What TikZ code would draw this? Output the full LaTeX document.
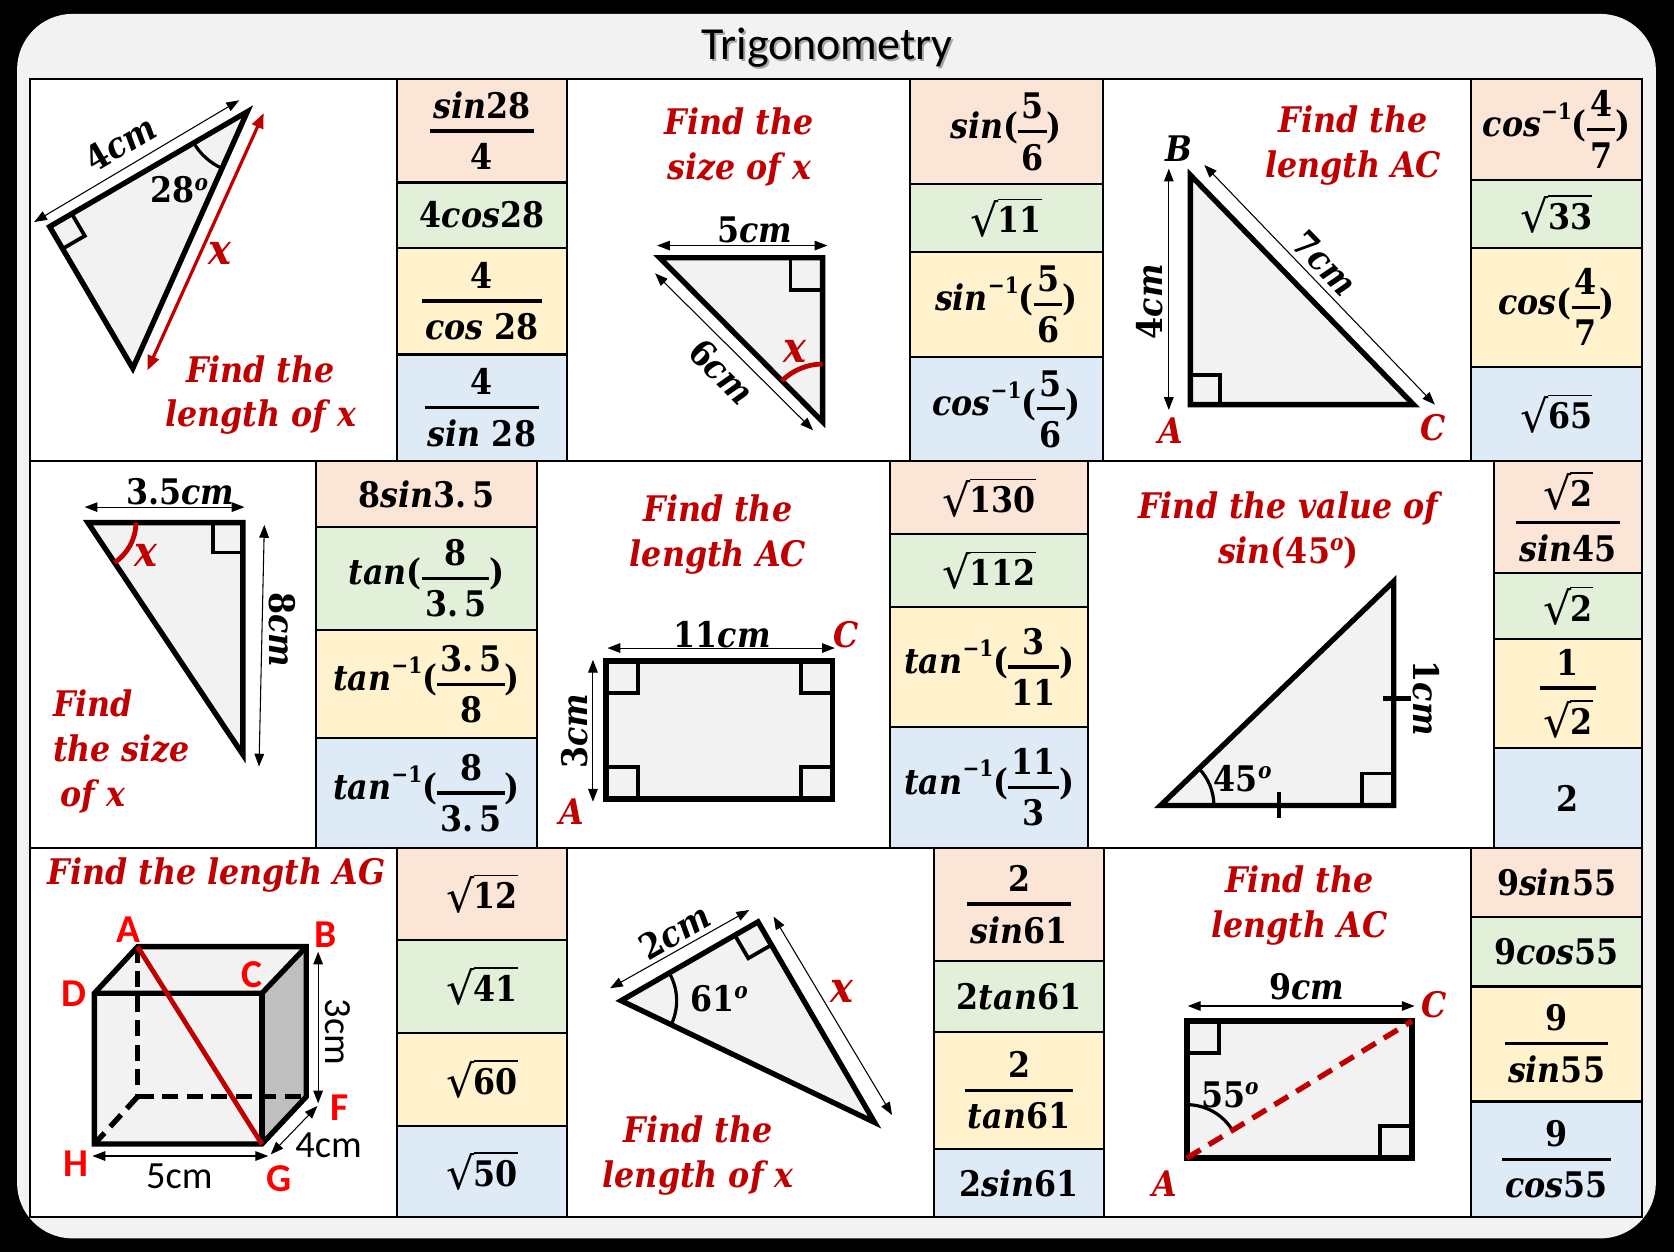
\documentclass[tikz,border=0pt]{standalone}
\usepackage{fontspec}
\usepackage{graphicx}
\usetikzlibrary{calc,angles,arrows.meta}
\newfontfamily\cmb{DejaVu Serif}[FakeStretch=0.9]
\newfontfamily\djs{DejaVu Sans}
\newfontfamily\carl{Carlito}
\definecolor{tred}{HTML}{C00000}
\definecolor{bred}{HTML}{FF0000}
\definecolor{tgrey}{HTML}{F2F2F2}
\definecolor{peach}{HTML}{FBE5D6}
\definecolor{mint}{HTML}{E2F0D9}
\definecolor{cream}{HTML}{FFF2CC}
\definecolor{sky}{HTML}{DEEBF7}
\definecolor{sidegrey}{HTML}{BFBFBF}
\newcommand\I[1]{{\itshape #1}}
\newcommand\inv{\raisebox{16pt}{\fontsize{21}{21}\selectfont −1}}
\newcommand\dg{\raisebox{12pt}{\fontsize{21}{21}\selectfont\itshape o}}
\newcommand\rt[1]{\raisebox{-3pt}{\resizebox*{!}{34.5pt}{\djs\mdseries √}}\kern-0.8pt\vbox{\hrule height 1.5pt\kern 6pt\hbox{#1}}}
\newcommand\mfr[2]{\ensuremath{\vcenter{\offinterlineskip\halign{\hfil\kern3pt##\kern3pt\hfil\cr\vphantom{8}#1\cr\noalign{\kern10pt\hrule height 3pt\kern10pt}\vphantom{8}#2\cr}}}}
\newcommand\abox[7]{\node[abox, fill=#6, minimum width={(#3-#2)*1pt}, minimum height={(#5-#4)*1pt}] (#1) at ({(#2+#3)/2},{-(#4+#5)/2}) {#7};}
\newcommand\rmk[4]{\coordinate (rk1) at ($(#2)!#4!(#1)$);\coordinate (rk2) at ($(#2)!#4!(#3)$);\draw[rmark] (rk1) -- ($(rk1)+(rk2)-(#2)$) -- (rk2);}
\tikzset{
  tri/.style={fill=tgrey, draw=black, line width=5pt, line join=miter},
  rmark/.style={draw=black, line width=3.5pt, line join=miter},
  dim/.style={line width=1pt, arrows={Triangle[length=12pt,width=9pt]-Triangle[length=12pt,width=9pt]}},
  rdim/.style={draw=tred, line width=3pt, arrows={Triangle[length=14pt,width=11pt]-Triangle[length=14pt,width=11pt]}},
  abox/.style={draw=black, line width=2pt, inner sep=0pt, font=\cmb\bfseries\fontsize{33}{40}\selectfont},
  lbl/.style={inner sep=0pt, font=\cmb\bfseries\fontsize{33}{40}\selectfont},
  redl/.style={inner sep=0pt, text=tred, font=\cmb\bfseries\itshape\fontsize{33}{40}\selectfont},
  redx/.style={inner sep=0pt, text=tred, font=\cmb\bfseries\itshape\fontsize{40}{44}\selectfont},
  redt/.style={inner sep=0pt, text=tred, align=center, font=\cmb\bfseries\itshape\fontsize{33}{42}\selectfont},
  slbl/.style={inner sep=0pt, font=\carl\fontsize{36}{40}\selectfont},
  sred/.style={inner sep=0pt, text=bred, font=\carl\bfseries\fontsize{37}{40}\selectfont},
  ttl/.style={inner sep=0pt, font=\carl\fontsize{43}{48}\selectfont},
  arcb/.style={draw=black, line width=3pt},
  arcr/.style={draw=tred, line width=4.5pt},
  tick/.style={draw=black, line width=4.5pt}
}
\begin{document}
\begin{tikzpicture}[x=1pt,y=1pt]
\useasboundingbox (0,0) rectangle (1568,-1172.7);
\fill[black] (0,0) rectangle (1568,-1172.7);
\fill[tgrey, rounded corners=52pt] (16,-13) rectangle (1551,-1160);
% title
\node[ttl, text=black!35] (tsh) at (776.5,-46.5) {Trigonometry};
\node[ttl] (title) at (774.5,-44.5) {Trigonometry};
% table
\filldraw[fill=white, draw=black, line width=2pt] (28,-74) rectangle (1538,-1140);
\draw[line width=2pt] (28,-432) -- (1538,-432);
\draw[line width=2pt] (28,-794) -- (1538,-794);
% ---------- answer boxes row 1
\abox{r1a1}{372}{531}{74}{171}{peach}{\mfr{\I{sin}28}{4}}
\abox{r1a2}{372}{531}{171}{232}{mint}{4\I{cos}28}
\abox{r1a3}{372}{531}{232}{332}{cream}{\mfr{4}{\I{cos} 28}}
\abox{r1a4}{372}{531}{332}{432}{sky}{\mfr{4}{\I{sin} 28}}
\abox{r1b1}{852}{1033}{74}{172.6}{peach}{\I{sin}(\mfr{5}{6})}
\abox{r1b2}{852}{1033}{172.6}{235.7}{mint}{\rt{11}}
\abox{r1b3}{852}{1033}{235.7}{334}{cream}{\I{sin}\inv(\mfr{5}{6})}
\abox{r1b4}{852}{1033}{334}{432}{sky}{\I{cos}\inv(\mfr{5}{6})}
\abox{r1c1}{1378}{1538}{74}{169}{peach}{\I{cos}\inv(\mfr{4}{7})}
\abox{r1c2}{1378}{1538}{169}{232.6}{mint}{\rt{33}}
\abox{r1c3}{1378}{1538}{232.6}{343.4}{cream}{\I{cos}(\mfr{4}{7})}
\abox{r1c4}{1378}{1538}{343.4}{432}{sky}{\rt{65}}
% ---------- answer boxes row 2
\abox{r2a1}{296}{503}{432}{493.3}{peach}{8\I{sin}3.\,5}
\abox{r2a2}{296}{503}{493.3}{590}{mint}{\I{tan}(\mfr{8}{3.\,5})}
\abox{r2a3}{296}{503}{590}{691.6}{cream}{\I{tan}\inv(\mfr{3.\,5}{8})}
\abox{r2a4}{296}{503}{691.6}{794}{sky}{\I{tan}\inv(\mfr{8}{3.\,5})}
\abox{r2b1}{834}{1019}{432}{500.5}{peach}{\rt{130}}
\abox{r2b2}{834}{1019}{500.5}{568.6}{mint}{\rt{112}}
\abox{r2b3}{834}{1019}{568.6}{681}{cream}{\I{tan}\inv(\mfr{3}{11})}
\abox{r2b4}{834}{1019}{681}{794}{sky}{\I{tan}\inv(\mfr{11}{3})}
\abox{r2c1}{1399}{1538}{432}{536.4}{peach}{\mfr{\rt{2}}{\I{sin}45}}
\abox{r2c2}{1399}{1538}{536.4}{598.8}{mint}{\rt{2}}
\abox{r2c3}{1399}{1538}{598.8}{701}{cream}{\mfr{1}{\rt{2}}}
\abox{r2c4}{1399}{1538}{701}{794}{sky}{2}
% ---------- answer boxes row 3
\abox{r3a1}{372}{531}{794}{880.5}{peach}{\rt{12}}
\abox{r3a2}{372}{531}{880.5}{967.3}{mint}{\rt{41}}
\abox{r3a3}{372}{531}{967.3}{1054.4}{cream}{\rt{60}}
\abox{r3a4}{372}{531}{1054.4}{1140}{sky}{\rt{50}}
\abox{r3b1}{875}{1034}{794}{900}{peach}{\mfr{2}{\I{sin}61}}
\abox{r3b2}{875}{1034}{900}{966.7}{mint}{2\I{tan}61}
\abox{r3b3}{875}{1034}{966.7}{1076}{cream}{\mfr{2}{\I{tan}61}}
\abox{r3b4}{875}{1034}{1076}{1140}{sky}{2\I{sin}61}
\abox{r3c1}{1378}{1538}{794}{859.2}{peach}{9\I{sin}55}
\abox{r3c2}{1378}{1538}{859.2}{924}{mint}{9\I{cos}55}
\abox{r3c3}{1378}{1538}{924}{1031.7}{cream}{\mfr{9}{\I{sin}55}}
\abox{r3c4}{1378}{1538}{1031.7}{1140}{sky}{\mfr{9}{\I{cos}55}}
% ================= row 1 cell 1
\coordinate (a1) at (46.5,-212.3);
\coordinate (a2) at (231.6,-104.7);
\coordinate (a3) at (124.4,-345);
\filldraw[tri] (a1) -- (a2) -- (a3) -- cycle;
\rmk{a2}{a1}{a3}{24pt}
\pic[arcb, angle radius=58pt] {angle=a1--a2--a3};
\node[lbl] (l28) at (168,-178) {28\dg};
\coordinate (d1a) at (32,-208); \coordinate (d1b) at (224,-94);
\draw[dim] (d1a) -- (d1b);
\node[lbl, rotate=30.5] (l4cm) at (113,-134) {4\I{cm}};
\coordinate (r1s) at (247,-106); \coordinate (r1e) at (138,-347);
\draw[rdim] (r1s) -- (r1e);
\node[redx] (x1) at (206,-237) {x};
\node[redt] (q1) at (244,-370) {Find the\\length of x};
% ================= row 1 cell 2
\coordinate (b1) at (618,-241.5);
\coordinate (b2) at (770.5,-241.5);
\coordinate (b3) at (770.5,-395);
\filldraw[tri] (b1) -- (b2) -- (b3) -- cycle;
\rmk{b1}{b2}{b3}{30pt}
\pic[arcr, angle radius=54pt] {angle=b2--b3--b1};
\node[redx] (x2) at (744.6,-329) {x};
\node[lbl] (l5cm) at (707,-215) {5\I{cm}};
\coordinate (d2a) at (615.5,-230); \coordinate (d2b) at (775,-230);
\draw[dim] (d2a) -- (d2b);
\node[lbl, rotate=-45] (l6cm) at (676,-348) {6\I{cm}};
\coordinate (d3a) at (613.6,-256); \coordinate (d3b) at (761.6,-403);
\draw[dim] (d3a) -- (d3b);
\node[redt] (q2) at (692.5,-138) {Find the\\size of x};
% ================= row 1 cell 3
\coordinate (c1) at (1115,-164);
\coordinate (c2) at (1115,-379);
\coordinate (c3) at (1324,-379);
\filldraw[tri] (c1) -- (c2) -- (c3) -- cycle;
\rmk{c1}{c2}{c3}{28pt}
\node[lbl] (lB1) at (1104,-139) {\I{B}};
\node[redl] (lA1) at (1097,-403) {A};
\node[redl] (lC1) at (1342,-401) {C};
\node[lbl, rotate=90] (l4cmb) at (1076.6,-282.6) {4\I{cm}};
\coordinate (d4a) at (1094.8,-158); \coordinate (d4b) at (1094.8,-384);
\draw[dim] (d4a) -- (d4b);
\node[lbl, rotate=-45.9] (l7cm) at (1241,-246.6) {7\I{cm}};
\coordinate (d5a) at (1128,-154.5); \coordinate (d5b) at (1344,-379);
\draw[dim] (d5a) -- (d5b);
\node[redt] (q3) at (1267.5,-136) {Find the\\length AC};
% ================= row 2 cell 1
\coordinate (e1) at (82.3,-489.5);
\coordinate (e2) at (227.5,-489.5);
\coordinate (e3) at (227.5,-706.8);
\filldraw[tri] (e1) -- (e2) -- (e3) -- cycle;
\rmk{e1}{e2}{e3}{28pt}
\pic[arcr, angle radius=45pt] {angle=e3--e1--e2};
\node[redx] (x3) at (137,-520) {x};
\node[lbl] (l35) at (169,-460.5) {3.5\I{cm}};
\coordinate (d6a) at (79.3,-475); \coordinate (d6b) at (229,-475);
\draw[dim] (d6a) -- (d6b);
\node[lbl, rotate=-90] (l8cm) at (264,-590) {8\I{cm}};
\coordinate (d7a) at (247.6,-491.7); \coordinate (d7b) at (242.6,-718);
\draw[dim] (d7a) -- (d7b);
\node[redt, align=left, anchor=west] (q4) at (49.5,-704) {Find\\the size\\\hspace*{7pt}of x};
% ================= row 2 cell 2
\coordinate (f1) at (567.5,-619);
\coordinate (f2) at (780,-619);
\coordinate (f3) at (780,-748.5);
\coordinate (f4) at (567.5,-748.5);
\filldraw[tri] (f1) -- (f2) -- (f3) -- (f4) -- cycle;
\rmk{f2}{f1}{f4}{30pt}
\rmk{f1}{f2}{f3}{30pt}
\rmk{f2}{f3}{f4}{30pt}
\rmk{f3}{f4}{f1}{30pt}
\node[lbl] (l11) at (676.6,-594.8) {11\I{cm}};
\coordinate (d8a) at (569,-607); \coordinate (d8b) at (782,-607);
\draw[dim] (d8a) -- (d8b);
\node[redl] (lC2) at (792.7,-594.8) {C};
\node[redl] (lA2) at (536,-760) {A};
\node[lbl, rotate=90] (l3cm) at (538.7,-685) {3\I{cm}};
\coordinate (d9a) at (555.4,-618); \coordinate (d9b) at (555.4,-751);
\draw[dim] (d9a) -- (d9b);
\node[redt] (q5) at (672.4,-500.5) {Find the\\length AC};
% ================= row 2 cell 3
\coordinate (g1) at (1087,-754.5);
\coordinate (g2) at (1305.5,-544.5);
\coordinate (g3) at (1305.5,-754.5);
\filldraw[tri] (g1) -- (g2) -- (g3) -- cycle;
\rmk{g1}{g3}{g2}{30pt}
\pic[arcb, angle radius=50pt] {angle=g3--g1--g2};
\node[lbl] (l45) at (1164,-729) {45\dg};
\draw[tick] (1198,-742) -- (1198,-766);
\draw[tick] (1295.5,-654) -- (1322,-654);
\node[lbl, rotate=-90] (l1cm) at (1336,-654) {1\I{cm}};
\node[redt] (q6) at (1206.7,-497) {Find the value of\\sin\textup{(45}\dg\textup{)}};
% ================= row 3 cell 1 (cuboid)
\coordinate (hA) at (128.9,-886.7);
\coordinate (hB) at (286.9,-886.7);
\coordinate (hC) at (245.3,-930.4);
\coordinate (hD) at (88.4,-930.4);
\coordinate (hE) at (128.9,-1027.2);
\coordinate (hF) at (286.9,-1027.2);
\coordinate (hG) at (245.3,-1071.6);
\coordinate (hH) at (88.4,-1071.6);
\fill[tgrey] (hA) -- (hB) -- (hC) -- (hD) -- cycle;
\fill[tgrey] (hD) -- (hC) -- (hG) -- (hH) -- cycle;
\fill[sidegrey] (hC) -- (hB) -- (hF) -- (hG) -- cycle;
\draw[line width=5pt, dash pattern=on 15pt off 8pt] (hA) -- (hE);
\draw[line width=5pt, dash pattern=on 15pt off 8pt] (hE) -- (hF);
\draw[line width=5pt, dash pattern=on 15pt off 8pt] (hE) -- (hH);
\draw[line width=5pt, line join=miter] (hH) -- (hD) -- (hA) -- (hB) -- (hF) -- (hG) -- cycle;
\draw[line width=5pt, line join=miter] (hD) -- (hC) -- (hB);
\draw[line width=5pt] (hC) -- (hG);
\draw[tred, line width=4.5pt] (hA) -- (hG);
\node[sred] (cA) at (120.6,-871) {A};
\node[sred] (cB) at (305,-875.8) {B};
\node[sred] (cC) at (235.6,-913) {C};
\node[sred] (cD) at (69.3,-931) {D};
\node[sred] (cH) at (71,-1089.7) {H};
\node[sred] (cG) at (261.6,-1103.7) {G};
\node[sred] (cF) at (318,-1038) {F};
\node[slbl, rotate=-90] (c3cm) at (316,-966.4) {3cm};
\coordinate (d10a) at (298,-891.4); \coordinate (d10b) at (298,-1033.5);
\draw[dim] (d10a) -- (d10b);
\node[slbl] (c4cm) at (307.7,-1072.5) {4cm};
\coordinate (d11a) at (253.6,-1081.3); \coordinate (d11b) at (297.3,-1036);
\draw[dim] (d11a) -- (d11b);
\node[slbl] (c5cm) at (168,-1102) {5cm};
\coordinate (d12a) at (86.6,-1082.8); \coordinate (d12b) at (251.2,-1082.8);
\draw[dim] (d12a) -- (d12b);
\node[redt] (q7) at (202.7,-819.6) {Find the length AG};
% ================= row 3 cell 2
\coordinate (k1) at (581.8,-937.3);
\coordinate (k2) at (710,-863.5);
\coordinate (k3) at (819.2,-1051.3);
\filldraw[tri] (k1) -- (k2) -- (k3) -- cycle;
\rmk{k1}{k2}{k3}{25pt}
\pic[arcb, angle radius=52pt] {angle=k3--k1--k2};
\node[lbl] (l61) at (673.4,-935) {61\dg};
\node[lbl, rotate=29.9] (l2cm) at (631.6,-872.7) {2\I{cm}};
\coordinate (d13a) at (571.4,-925.7); \coordinate (d13b) at (701.8,-852.4);
\draw[dim] (d13a) -- (d13b);
\coordinate (d14a) at (724.6,-858.6); \coordinate (d14b) at (835.6,-1044.4);
\draw[dim] (d14a) -- (d14b);
\node[redx] (x4) at (788.8,-928.9) {x};
\node[redt] (q8) at (654,-1082.6) {Find the\\length of x};
% ================= row 3 cell 3
\coordinate (m1) at (1111.7,-956.3);
\coordinate (m2) at (1322.7,-956.3);
\coordinate (m3) at (1322.7,-1084.7);
\coordinate (m4) at (1111.7,-1084.7);
\filldraw[tri] (m1) -- (m2) -- (m3) -- (m4) -- cycle;
\rmk{m2}{m1}{m4}{30pt}
\rmk{m2}{m3}{m4}{30pt}
\pic[arcb, angle radius=50pt] {angle=m2--m4--m1};
\draw[tred, line width=5pt, dash pattern=on 15pt off 9pt] (m4) -- (m2);
\node[lbl] (l55) at (1152,-1025.6) {55\dg};
\node[lbl] (l9cm) at (1224,-924.2) {9\I{cm}};
\coordinate (d15a) at (1112.6,-942.3); \coordinate (d15b) at (1325,-942.3);
\draw[dim] (d15a) -- (d15b);
\node[redl] (lC3) at (1343,-941.4) {C};
\node[redl] (lA3) at (1091.4,-1108.4) {A};
\node[redt] (q9) at (1217.2,-848.5) {Find the\\length AC};
\end{tikzpicture}
\end{document}
